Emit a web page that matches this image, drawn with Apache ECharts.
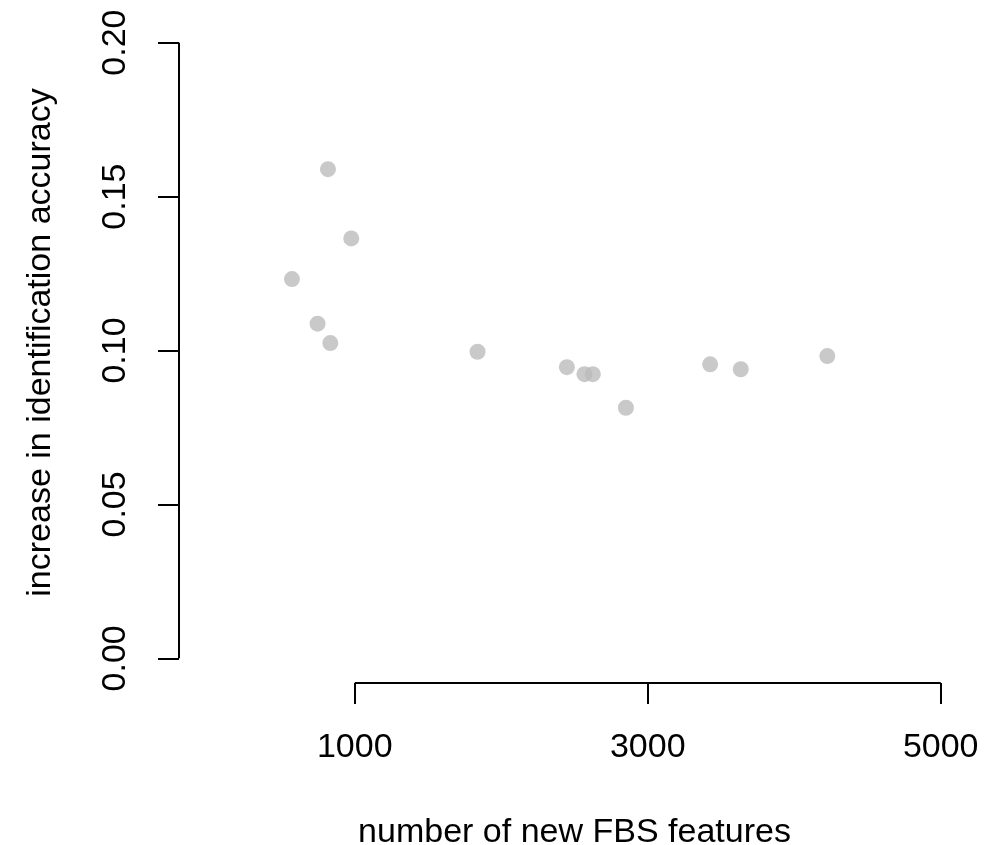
<!DOCTYPE html>
<html>
<head>
<meta charset="utf-8">
<script src="https://cdn.jsdelivr.net/npm/echarts@6/dist/echarts.min.js"></script>
<style>
html,body{margin:0;padding:0;background:#fff;}
#c{width:991px;height:845px;}
</style>
</head>
<body>
<div id="c"></div>
<script>
// ---- data ----
var featureCounts = [571, 817, 976, 746, 833, 1838, 2448, 2568, 2625, 2851, 3426, 3635, 4226];
var accuracyGain  = [0.1232, 0.1589, 0.1364, 0.1087, 0.1024, 0.0996, 0.0946, 0.0923, 0.0923, 0.0814, 0.0955, 0.0939, 0.0982];
var xTicks = [1000, 3000, 5000];
var yTicks = [0, 0.05, 0.10, 0.15, 0.20];
var xTitle = 'number of new FBS features';
var yTitle = 'increase in identification accuracy';
// axis limits (R style: 4% padding around xlim 0..5000, ylim 0..0.2)
var xMin = -200, xMax = 5200;
var yMin = -0.008, yMax = 0.208;

var points = featureCounts.map(function (x, i) { return [x, accuracyGain[i]]; });

var FONT = 'Liberation Sans, Arial, Helvetica, sans-serif';
var INK = '#000';
var FS = 34;

var chart = echarts.init(document.getElementById('c'), null, {renderer: 'canvas'});
chart.setOption({
  backgroundColor: '#ffffff',
  animation: false,
  grid: {left: 179, right: 21, top: 18, bottom: 162, containLabel: false, outerBoundsMode: 'none'},
  xAxis: {
    type: 'value', min: xMin, max: xMax,
    splitLine: {show: false},
    axisLine: {show: false, onZero: false},
    axisTick: {show: true, inside: false, customValues: xTicks, length: 21, lineStyle: {color: INK, width: 2}},
    axisLabel: {show: true, customValues: xTicks, margin: 48, fontSize: FS, fontFamily: FONT, color: INK,
      formatter: function (v) { return String(v); }},
    name: xTitle, nameLocation: 'middle', nameGap: 133,
    nameTextStyle: {fontSize: FS, fontFamily: FONT, color: INK}
  },
  yAxis: {
    type: 'value', min: yMin, max: yMax,
    splitLine: {show: false},
    axisLine: {show: false, onZero: false},
    axisTick: {show: true, inside: false, customValues: yTicks, length: 21, lineStyle: {color: INK, width: 2}},
    axisLabel: {show: true, customValues: yTicks, rotate: 90, margin: 46, fontSize: FS, fontFamily: FONT, color: INK,
      formatter: function (v) { return v.toFixed(2); }},
    name: yTitle, nameLocation: 'middle', nameGap: 121,
    nameTextStyle: {fontSize: FS, fontFamily: FONT, color: INK, padding: [0, 0, 0, 16]}
  },
  series: [{
    type: 'scatter',
    data: points,
    symbol: 'circle',
    symbolSize: 16,
    clip: false,
    itemStyle: {color: '#bbbbbb'},
    markLine: {
      silent: true,
      symbol: ['none', 'none'],
      label: {show: false},
      lineStyle: {color: INK, width: 2, type: 'solid'},
      data: [
        [{coord: [xTicks[0], yMin]}, {coord: [xTicks[xTicks.length - 1], yMin]}],
        [{coord: [xMin, yTicks[0]]}, {coord: [xMin, yTicks[yTicks.length - 1]]}]
      ]
    }
  }]
});
</script>
</body>
</html>
